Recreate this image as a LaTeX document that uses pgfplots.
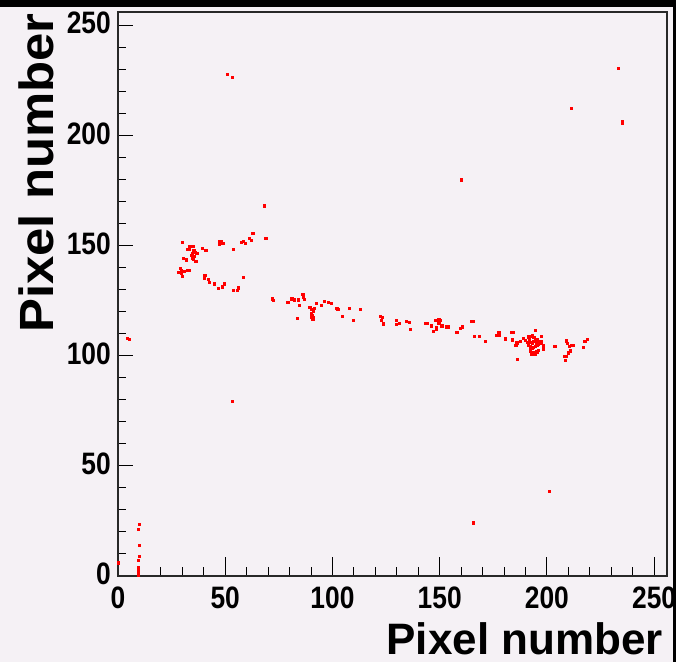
\documentclass[border=0pt]{standalone}
\usepackage{pgfplots}
\pgfplotsset{compat=1.18}
\usepackage{fontspec}
\setmainfont{Liberation Sans}
\newfontfamily\tickfont{Liberation Sans}[FakeStretch=0.85]
\newfontfamily\ytitlefont{Liberation Sans}[FakeStretch=1.06]

\definecolor{padbg}{RGB}{245,241,245}
\definecolor{framec}{RGB}{40,40,40}

% hits: pixel x, pixel y
\pgfplotstableread{
x y
0.0 6.0
4.3 107.9
5.3 107.5
9.8 23.6
9.5 21.2
9.8 13.9
9.8 9.0
9.5 7.3
9.6 4.0
9.6 3.0
9.6 2.1
9.6 0.9
9.6 0.2
51.1 227.8
53.3 226.4
233.1 230.6
211.5 212.5
235.1 206.5
235.1 205.6
160.1 179.9
201.2 38.4
165.8 24.2
53.1 79.2
68.1 168.1
29.8 151.6
33.2 149.7
34.2 149.7
35.1 149.7
32.3 148.3
33.0 148.5
35.3 147.7
36.0 147.1
36.7 146.6
34.5 146.5
34.4 145.6
35.4 145.0
34.8 144.4
35.1 143.8
36.2 142.9
30.4 144.1
31.7 143.6
39.3 148.8
40.9 147.9
47.2 152.1
48.2 152.1
47.2 150.6
48.8 150.9
53.8 148.3
57.5 151.6
58.3 152.1
59.3 151.2
61.2 153.3
62.0 152.4
62.8 155.6
68.5 153.3
69.1 153.3
28.0 137.9
28.9 139.7
29.4 138.6
29.5 137.4
29.8 136.2
30.9 138.5
32.3 138.9
33.2 138.9
40.4 136.5
40.1 135.2
42.0 134.7
42.7 133.5
44.9 132.7
46.8 130.6
48.6 131.3
49.6 132.7
53.6 129.7
55.6 129.8
56.1 130.9
58.3 135.6
71.9 125.9
72.3 125.2
79.1 124.3
81.0 125.9
82.2 125.4
84.2 125.4
84.4 122.9
86.1 127.9
86.2 126.5
86.7 125.6
83.4 117.1
89.4 122.1
90.0 121.2
91.1 120.3
91.5 121.7
92.5 123.8
90.0 119.1
90.6 118.5
90.3 117.4
91.1 117.6
90.8 116.5
94.8 123.0
96.0 124.7
98.1 124.3
99.5 123.8
102.0 121.7
102.4 121.1
104.7 117.9
107.7 121.4
113.1 121.2
109.7 116.2
122.1 118.0
123.2 117.6
122.6 116.2
123.7 114.5
129.7 116.2
129.7 114.3
131.3 114.7
134.3 115.8
135.8 115.3
136.3 112.0
143.3 114.7
144.2 114.7
145.9 113.6
147.9 116.2
149.5 116.5
150.4 116.1
149.5 115.0
148.3 112.9
148.4 112.0
146.9 111.1
150.9 113.6
153.1 113.2
154.0 113.2
157.9 110.6
159.6 112.3
160.5 113.2
164.7 115.5
165.7 115.5
166.0 109.0
168.5 109.0
171.1 106.6
176.5 109.4
177.5 110.5
177.9 109.3
180.6 107.7
183.4 110.6
184.1 110.6
183.7 107.3
185.4 104.9
185.9 106.2
186.3 105.8
186.2 98.4
187.6 106.6
189.0 107.9
189.9 107.1
190.7 106.2
191.5 108.6
192.4 109.0
193.2 109.3
193.8 108.4
194.6 111.7
191.6 106.8
192.4 106.1
193.0 105.6
193.6 106.6
194.4 106.8
195.2 107.5
196.0 106.6
196.7 106.1
197.5 106.7
197.2 108.7
191.3 104.7
192.1 104.1
192.9 103.4
193.6 103.8
194.4 104.4
195.2 105.0
196.0 105.3
197.2 105.6
198.3 104.9
198.3 103.2
192.1 102.3
192.9 101.4
193.6 101.7
194.4 100.8
192.9 100.5
195.2 101.8
196.0 102.6
203.6 104.4
208.9 106.8
209.6 105.6
210.4 104.4
211.2 104.7
212.1 104.9
210.7 102.3
209.8 101.4
208.9 99.9
208.1 99.6
208.6 98.1
217.6 106.4
218.7 107.5
217.1 104.0
}\hits

\begin{document}
\begin{tikzpicture}
\path[use as bounding box] (0,0) rectangle (676pt,662pt);
\fill[padbg] (0,0) rectangle (676pt,662pt);
\begin{axis}[
    at={(118pt,86pt)}, anchor=south west,
    scale only axis, width=549pt, height=564pt,
    xmin=0, xmax=256, ymin=0, ymax=256,
    xtick={0,50,...,250}, ytick={0,50,...,250},
    minor x tick num=4, minor y tick num=4,
    tick pos=left, tick align=inside,
    x tick style={/pgfplots/major tick length=19pt,/pgfplots/minor tick length=9pt},
    y tick style={/pgfplots/major tick length=15pt,/pgfplots/minor tick length=7.7pt},
    tick style={black, line width=1pt},
    axis line style={framec, line width=1.4pt},
    /pgf/number format/assume math mode=true,
    ticklabel style={font=\tickfont\bfseries\fontsize{31}{31}\selectfont, inner sep=0pt},
    xticklabel style={yshift=-11pt},
    yticklabel style={xshift=-7pt, yshift=2pt},
]
\addplot[only marks, mark=square*, mark size=1.1pt, color=red] table[x=x, y=y] {\hits};
\end{axis}
\node[anchor=base east, inner sep=0pt, font=\bfseries\fontsize{44}{44}\selectfont] at (663pt,8pt) {Pixel number};
\node[rotate=90, anchor=base east, inner sep=0pt, font=\ytitlefont\bfseries\fontsize{48}{48}\selectfont] at (53pt,649pt) {Pixel number};
\fill[black] (0,655pt) rectangle (676pt,662pt);
\fill[black] (673pt,0) rectangle (676pt,662pt);
\end{tikzpicture}
\end{document}
